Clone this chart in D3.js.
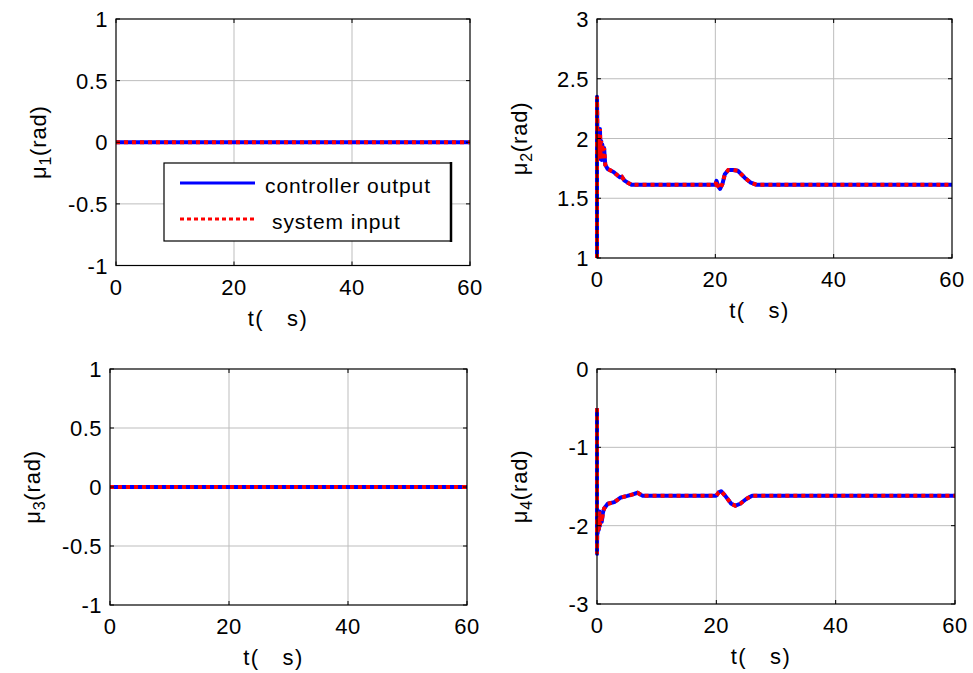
<!DOCTYPE html>
<html><head><meta charset="utf-8">
<script src="https://cdn.jsdelivr.net/npm/d3@7"></script>
<style>
body{margin:0;background:#fff;}
svg{display:block;}
text{font-family:"Liberation Sans",Arial,sans-serif;fill:#000;white-space:pre;}
</style></head>
<body><svg id="c" width="973" height="673"></svg>
<script>
// ---- data ----
const xTicks = [0, 20, 40, 60];
const yTicks1 = [-1, -0.5, 0, 0.5, 1];
const yTicks2 = [1, 1.5, 2, 2.5, 3];
const yTicks3 = [-1, -0.5, 0, 0.5, 1];
const yTicks4 = [-3, -2, -1, 0];

const t1 = [0, 60];
const mu1 = [0, 0];
const t3 = [0, 60];
const mu3 = [0, 0];

const t2 = [0, 0, 0.05, 0.1, 0.15, 0.2, 0.3, 0.4, 0.5, 0.6, 0.7, 0.8, 0.9, 1.0, 1.2, 1.4, 1.8, 2.8, 3.5, 3.9, 4.2, 4.6, 5.2, 5.9,
            20.0, 20.2, 20.5, 20.8, 21.2, 21.6, 22.2, 23.0, 23.8, 25.0, 26.0, 27.0, 60];
const mu2 = [1.0, 2.35, 2.1, 1.88, 2.05, 1.85, 2.0, 1.83, 2.08, 1.86, 1.98, 1.82, 1.95, 1.85, 1.92, 1.78, 1.745, 1.72, 1.69, 1.675, 1.68, 1.65, 1.63, 1.612,
             1.612, 1.645, 1.60, 1.578, 1.62, 1.70, 1.737, 1.737, 1.73, 1.67, 1.63, 1.612, 1.612];

const t4 = [0, 0, 0.05, 0.1, 0.2, 0.3, 0.4, 0.5, 0.6, 0.8, 1.0, 1.2, 1.8, 2.9, 4.0, 5.1, 6.0, 6.8, 7.6,
            20.0, 20.4, 20.8, 21.5, 22.5, 23.2, 24.0, 25.0, 26.0, 60];
const mu4 = [-0.5, -2.36, -1.85, -2.1, -1.9, -2.05, -1.82, -2.0, -1.85, -1.95, -1.83, -1.78, -1.72, -1.70, -1.64, -1.62, -1.6, -1.58, -1.617,
             -1.617, -1.575, -1.56, -1.62, -1.72, -1.745, -1.72, -1.66, -1.617, -1.617];

const seriesNames = ["controller output", "system input"];
const yLabelSubs = ["1", "2", "3", "4"];
const xLabel = "t(   s)";

// ---- layout ----
const panels = [
  {L:116, R:470, T:19, B:265.5, yd:[-1,1], yt:yTicks1, t:t1, v:mu1, sub:yLabelSubs[0]},
  {L:597, R:952, T:19, B:258,   yd:[1,3],  yt:yTicks2, t:t2, v:mu2, sub:yLabelSubs[1]},
  {L:110, R:467, T:369, B:605,  yd:[-1,1], yt:yTicks3, t:t3, v:mu3, sub:yLabelSubs[2]},
  {L:597, R:955, T:369, B:604,  yd:[-3,0], yt:yTicks4, t:t4, v:mu4, sub:yLabelSubs[3]}
];

const svg = d3.select("#c");
const fmt = d => String(d);

panels.forEach((p, i) => {
  const x = d3.scaleLinear().domain([0, 60]).range([p.L, p.R]);
  const y = d3.scaleLinear().domain(p.yd).range([p.B, p.T]);
  const g = svg.append("g");

  // grid
  xTicks.forEach(tk => {
    if (tk > 0 && tk < 60) g.append("line").attr("x1", x(tk)).attr("x2", x(tk)).attr("y1", p.T).attr("y2", p.B)
      .attr("stroke", "#bdbdbd").attr("stroke-width", 1);
  });
  p.yt.forEach(tk => {
    if (tk > p.yd[0] && tk < p.yd[1]) g.append("line").attr("x1", p.L).attr("x2", p.R).attr("y1", y(tk)).attr("y2", y(tk))
      .attr("stroke", "#bdbdbd").attr("stroke-width", 1);
  });

  // data lines
  const data = p.t.map((tt, k) => [tt, p.v[k]]);
  const line = d3.line().x(d => x(d[0])).y(d => y(d[1]));
  g.append("path").datum(data).attr("d", line).attr("fill", "none")
    .attr("stroke", "#0000ff").attr("stroke-width", 4).attr("stroke-linejoin", "round");
  g.append("path").datum(data).attr("d", line).attr("fill", "none")
    .attr("stroke", "#ff0000").attr("stroke-width", 4).attr("stroke-dasharray", "4 4");

  // box
  g.append("rect").attr("x", p.L).attr("y", p.T).attr("width", p.R - p.L).attr("height", p.B - p.T)
    .attr("fill", "none").attr("stroke", "#000").attr("stroke-width", 1.2);

  // ticks (inward, all sides)
  const tl = 4;
  xTicks.forEach(tk => {
    g.append("line").attr("x1", x(tk)).attr("x2", x(tk)).attr("y1", p.B).attr("y2", p.B - tl).attr("stroke", "#000");
    g.append("line").attr("x1", x(tk)).attr("x2", x(tk)).attr("y1", p.T).attr("y2", p.T + tl).attr("stroke", "#000");
  });
  p.yt.forEach(tk => {
    g.append("line").attr("x1", p.L).attr("x2", p.L + tl).attr("y1", y(tk)).attr("y2", y(tk)).attr("stroke", "#000");
    g.append("line").attr("x1", p.R).attr("x2", p.R - tl).attr("y1", y(tk)).attr("y2", y(tk)).attr("stroke", "#000");
  });

  // tick labels
  xTicks.forEach(tk => {
    g.append("text").attr("x", x(tk)).attr("y", p.B + 29).attr("text-anchor", "middle")
      .attr("font-size", 22).attr("letter-spacing", 0.5).text(fmt(tk));
  });
  p.yt.forEach(tk => {
    g.append("text").attr("x", p.L - 8).attr("y", y(tk) + 8).attr("text-anchor", "end")
      .attr("font-size", 22).attr("letter-spacing", 0.5).text(fmt(tk));
  });

  // x label
  g.append("text").attr("x", (p.L + p.R) / 2 - 15).attr("y", p.B + 60).attr("text-anchor", "middle")
    .attr("font-size", 22).attr("letter-spacing", 1.5).text(xLabel);

  // y label
  const cy = (p.T + p.B) / 2;
  const yl = g.append("text").attr("transform", `translate(${p.L - 70},${cy}) rotate(-90)`)
    .attr("text-anchor", "middle").attr("font-size", 22).attr("letter-spacing", 0.8);
  yl.append("tspan").text("μ");
  yl.append("tspan").attr("font-size", 16).attr("dy", 5).text(p.sub);
  yl.append("tspan").attr("dy", -5).text("(rad)");

  if (i === 0) {
    // legend
    const lx = 164, ly = 163, lw = 287, lh = 78;
    const lg = svg.append("g");
    lg.append("rect").attr("x", lx).attr("y", ly).attr("width", lw).attr("height", lh)
      .attr("fill", "#fff").attr("stroke", "#000").attr("stroke-width", 1.2);
    lg.append("line").attr("x1", lx + lw).attr("x2", lx + lw).attr("y1", ly - 1).attr("y2", ly + lh + 1)
      .attr("stroke", "#000").attr("stroke-width", 2.5);
    lg.append("line").attr("x1", lx + 16).attr("x2", lx + 91).attr("y1", ly + 20).attr("y2", ly + 20)
      .attr("stroke", "#0000ff").attr("stroke-width", 3);
    lg.append("line").attr("x1", lx + 16).attr("x2", lx + 91).attr("y1", ly + 56).attr("y2", ly + 56)
      .attr("stroke", "#ff0000").attr("stroke-width", 3).attr("stroke-dasharray", "4 3");
    lg.append("text").attr("x", lx + 101).attr("y", ly + 30).attr("font-size", 21).attr("letter-spacing", 0.9).text(seriesNames[0]);
    lg.append("text").attr("x", lx + 108).attr("y", ly + 66).attr("font-size", 21).attr("letter-spacing", 0.9).text(seriesNames[1]);
  }
});
</script></body></html>
